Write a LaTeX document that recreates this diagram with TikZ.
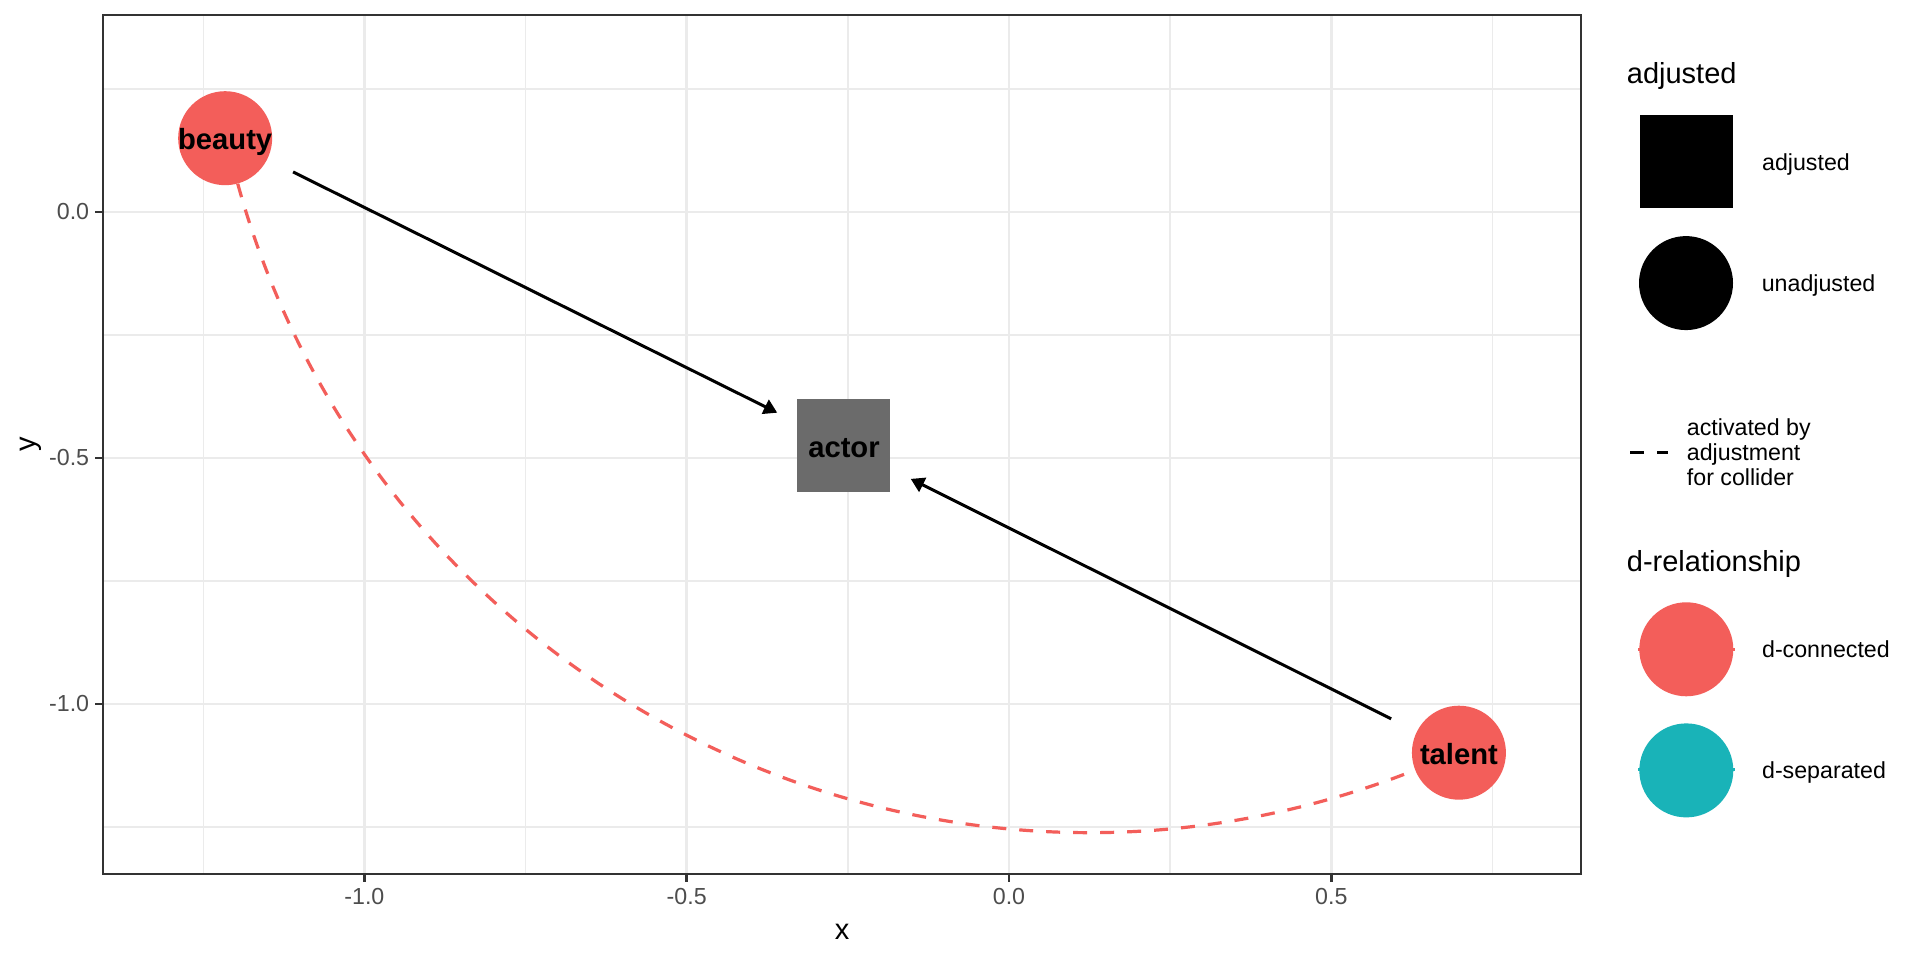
\documentclass[tikz,border=0pt]{standalone}
\usepackage{fontspec}
\setmainfont{Liberation Sans}
\usepackage{tikz}
\usetikzlibrary{positioning,arrows.meta}
\definecolor{dred}{HTML}{F35E5A}
\definecolor{dteal}{HTML}{19B3B8}
\definecolor{adjgray}{HTML}{6B6B6B}
\definecolor{gridgray}{HTML}{EBEBEB}
\definecolor{axgray}{HTML}{333333}
\definecolor{lblgray}{HTML}{4D4D4D}
\newcommand\txtsmall{\fontsize{23.2}{25}\selectfont}
\newcommand\txtbig{\fontsize{29}{33}\selectfont}
\newcommand\txtnode{\fontsize{29.2}{33}\selectfont\bfseries}
\tikzset{
  major/.style  ={draw=gridgray, line width=2.8pt},
  minor/.style  ={draw=gridgray, line width=1.4pt},
  frame/.style  ={draw=axgray, line width=1.5pt},
  tick/.style   ={draw=axgray, line width=2.8pt},
  ticklbl/.style={text=lblgray, font=\txtsmall, inner sep=0pt},
  axttl/.style  ={font=\txtbig, inner sep=0pt},
  dnode/.style  ={circle, fill=dred, minimum size=94pt, inner sep=0pt, text height=23pt, text depth=0pt, font=\txtnode},
  anode/.style  ={rectangle, fill=adjgray, minimum size=93pt, inner sep=0pt, text height=23pt, text depth=0pt, font=\txtnode},
  arr/.style    ={-{Triangle[length=13.4pt, width=15.4pt]}, line width=3pt, shorten <=28.6pt, shorten >=22.4pt},
  activ/.style  ={draw=dred, line width=3.2pt, dash pattern=on 14pt off 13pt},
  keysq/.style  ={rectangle, fill=black, minimum size=93pt, inner sep=0pt},
  keycirc/.style={circle, fill=black, minimum size=94pt, inner sep=0pt},
  keytxt/.style ={font=\txtsmall, inner sep=0pt, text height=16.6pt, text depth=0pt, anchor=west},
  keyttl/.style ={font=\txtbig, inner sep=0pt, anchor=base west},
  keydash/.style={line width=3pt, dash pattern=on 14pt off 13pt},
  keyedge/.style={line width=3pt},
}

\begin{document}
\begin{tikzpicture}[x=1pt, y=1pt]
  \fill[white] (0,0) rectangle (1920,960);
  \useasboundingbox (0,0) rectangle (1920,960);

  % panel in data units
  \begin{scope}[shift={(1009,748)}, x=644.6pt, y=492pt]
    \foreach \x in {-1.25,-0.75,-0.25,0.25,0.75}
      \draw[minor] (\x,-1.3455) -- (\x,0.4004);
    \foreach \y in {-1.25,-0.75,-0.25,0.25}
      \draw[minor] (-1.4055,\y) -- (0.8874,\y);
    \foreach \x in {-1,-0.5,0,0.5}
      \draw[major] (\x,-1.3455) -- (\x,0.4004);
    \foreach \y in {-1,-0.5,0}
      \draw[major] (-1.4055,\y) -- (0.8874,\y);
    \draw[frame] (-1.4055,-1.3455) rectangle (0.8874,0.4004);

    \foreach \x/\t [count=\i] in {-1/-1.0,-0.5/-0.5,0/0.0,0.5/0.5} {
      \draw[tick] (\x,-1.3455) -- ++(0pt,-7.6pt);
      \node[ticklbl, anchor=base] (xt\i) at ([yshift=-31pt]\x,-1.3455) {\t};
    }
    \foreach \y/\t [count=\i] in {-1/-1.0,-0.5/-0.5,0/0.0} {
      \draw[tick] (-1.4055,\y) -- ++(-7.6pt,0pt);
      \node[ticklbl, anchor=east] (yt\i) at ([xshift=-13.7pt]-1.4055,\y) {\t};
    }

    \node[dnode] (beauty) at (-1.216,0.150) {\makebox[0pt]{beauty}};
    \node[anode] (actor)  at (-0.256,-0.475) {actor};
    \node[dnode] (talent) at (0.698,-1.099) {\makebox[0pt]{talent}};

    \draw[activ] (beauty) .. controls (-0.9794,-0.9728) and (-0.1285,-1.5283) .. (talent);
    \draw[arr] (beauty) -- (actor);
    \draw[arr] (talent) -- (actor);
  \end{scope}

  \node[axttl, anchor=base] (xttl) at (842,20.8) {x};
  \node[axttl, rotate=90] (yttl) at (31,515.5) {y};

  % legend
  \node[keyttl] (adjttl) at (1626.7,876) {adjusted};
  \node[keysq] (sqkey) at (1686,798) {};
  \node[keytxt, right=29.2pt of sqkey] (sqtxt) {adjusted};
  \node[keycirc, below=27.2pt of sqkey] (circkey) {};
  \node[keytxt, right=28.4pt of circkey] (circtxt) {unadjusted};

  \coordinate (dash0) at (1630,507.3);
  \coordinate (dash1) at (1668,507.3);
  \draw[keydash] (dash0) -- (dash1);
  \node[font=\txtsmall, align=left, inner sep=0pt, anchor=base west] (dashtxt) at (1686.7,474) {activated by\\adjustment\\for collider};

  \node[keyttl] (drelttl) at (1626.7,388.3) {d-relationship};
  \draw[keyedge, dred] (1638,310.7) -- (1735,310.7);
  \node[keycirc, fill=dred] (dconkey) at (1686.3,310.7) {};
  \node[keytxt, right=28.4pt of dconkey] (dcontxt) {d-connected};
  \draw[keyedge, dteal] (1638,190) -- (1735,190);
  \node[keycirc, fill=dteal, below=26.7pt of dconkey] (dsepkey) {};
  \node[keytxt, right=28.4pt of dsepkey] (dseptxt) {d-separated};
\end{tikzpicture}
\end{document}
